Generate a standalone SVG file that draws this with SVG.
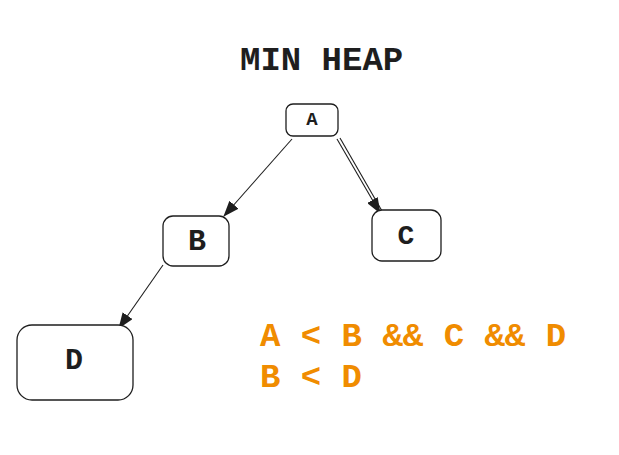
<svg xmlns="http://www.w3.org/2000/svg" width="619" height="455" viewBox="0 0 619 455">
<defs>
<style>
.box{fill:#ffffff;stroke:#1e1e1e;stroke-width:1.3}
.lbl{font-family:"Liberation Mono","DejaVu Sans Mono",monospace;font-weight:bold;fill:#1e1e1e;text-anchor:middle;dominant-baseline:central}
.big{font-family:"Liberation Mono","DejaVu Sans Mono",monospace;font-size:34px;font-weight:bold}
.edge{stroke:#1e1e1e;stroke-width:1.1;fill:none}
</style>
<marker id="ah" viewBox="0 0 16 12" refX="15" refY="6" markerWidth="16" markerHeight="12" markerUnits="userSpaceOnUse" orient="auto">
<path d="M0,0 L16,6 L0,12 Z" fill="#1e1e1e"/>
</marker>
</defs>
<rect width="619" height="455" fill="#ffffff"/>
<text class="big" x="240" y="70" fill="#1e1e1e">MIN HEAP</text>
<g id="connectors">
<line class="edge" x1="292" y1="139" x2="224" y2="216" marker-end="url(#ah)"/>
<line class="edge" x1="337" y1="139" x2="380" y2="213" marker-end="url(#ah)"/>
<line class="edge" x1="340" y1="138" x2="382" y2="211"/>
<line class="edge" x1="163" y1="265" x2="119" y2="328" marker-end="url(#ah)"/>
</g>
<g id="node-A">
<rect class="box" x="286" y="104" width="52" height="32" rx="7"/>
<text class="lbl" x="312" y="120" font-size="19" font-weight="normal">A</text>
</g>
<g id="node-B">
<rect class="box" x="163" y="216" width="66" height="50" rx="10"/>
<text class="lbl" x="197" y="242" font-size="30">B</text>
</g>
<g id="node-C">
<rect class="box" x="372" y="210" width="69" height="51" rx="10"/>
<text class="lbl" x="406" y="236" font-size="28">C</text>
</g>
<g id="node-D">
<rect class="box" x="17" y="325" width="116" height="75" rx="15"/>
<text class="lbl" x="74" y="361" font-size="30">D</text>
</g>
<g id="condition" fill="#f08c00">
<text class="big" x="260" y="346">A &lt; B &amp;&amp; C &amp;&amp; D</text>
<text class="big" x="260" y="387">B &lt; D</text>
</g>
</svg>
